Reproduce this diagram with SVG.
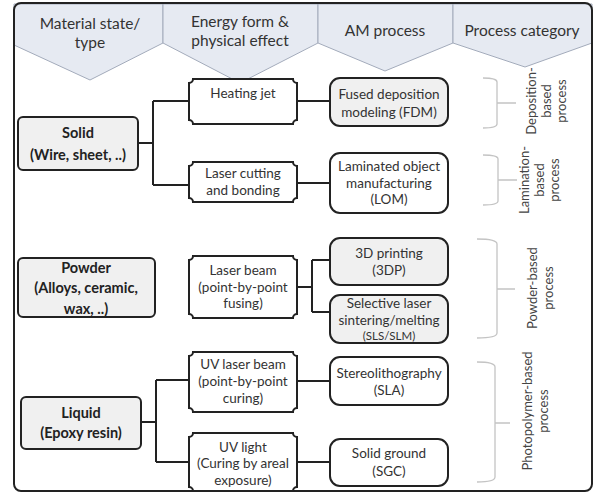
<svg xmlns="http://www.w3.org/2000/svg" width="595" height="493" viewBox="0 0 595 493">
<style>
text{font-family:Lato,"Open Sans","Liberation Sans",sans-serif;fill:#333;text-anchor:middle}
.h{font-size:15.5px}
.b{font-size:14.5px;font-weight:bold;fill:#222}
.t{font-size:13.5px}
.s{font-size:11.5px}
.r{font-size:13px;fill:#444}
.hd{fill:#e6eaf2;stroke:#a3abbb;stroke-width:1}
.mat{fill:#f0f0f0;stroke:#222;stroke-width:2}
.en{fill:#fff;stroke:#222;stroke-width:2}
.pg{fill:#f0f0f0;stroke:#222;stroke-width:2}
.pw{fill:#fff;stroke:#222;stroke-width:2}
.c{fill:none;stroke:#222;stroke-width:2}
.br{fill:none;stroke:#c4c4c4;stroke-width:1.3}
</style>
<rect x="14" y="3" width="578" height="488" rx="7" fill="#fff"/>
<g id="headers">
<polygon class="hd" points="14,4 163,4 163,43 90,80 14,45"/>
<polygon class="hd" points="163,4 318,4 318,43 240,83 163,43"/>
<polygon class="hd" points="318,4 453,4 453,43 385,71 318,43"/>
<polygon class="hd" points="453,4 592,4 592,43 525,67 453,43"/>
<text class="h" x="90" y="29">Material state/</text>
<text class="h" x="90" y="48">type</text>
<text class="h" x="240" y="27">Energy form &amp;</text>
<text class="h" x="240" y="46">physical effect</text>
<text class="h" x="385" y="36">AM process</text>
<text class="h" x="522" y="36">Process category</text>
</g>
<rect x="14" y="3" width="578" height="488" rx="7" fill="none" stroke="#222" stroke-width="2"/>
<g id="connectors">
<path class="c" d="M138,143 H153 M153,101 V185 M153,101 H190 M153,185 H190"/>
<path class="c" d="M297,101 H330"/>
<path class="c" d="M297,183 H330"/>
<path class="c" d="M297,287 H312 M312,260 V312 M312,260 H330 M312,312 H330"/>
<path class="c" d="M140,422 H156 M156,380 V462 M156,380 H190 M156,462 H190"/>
<path class="c" d="M297,381 H330"/>
<path class="c" d="M297,462 H330"/>
</g>
<g id="solid">
<rect class="mat" x="18" y="117" width="120" height="53" rx="5"/>
<text class="b" x="78" y="138">Solid</text>
<text class="b" x="78" y="160">(Wire, sheet, ..)</text>
</g>
<g id="powder">
<rect class="mat" x="18" y="258" width="137" height="59" rx="5"/>
<text class="b" x="86" y="273">Powder</text>
<text class="b" x="86" y="293">(Alloys, ceramic,</text>
<text class="b" x="86" y="314">wax, ..)</text>
</g>
<g id="liquid">
<rect class="mat" x="21" y="397" width="120" height="52" rx="5"/>
<text class="b" x="81" y="418">Liquid</text>
<text class="b" x="81" y="438">(Epoxy resin)</text>
</g>
<g id="heating-jet">
<path class="en" d="M193,79 H293 A4,4 0 0 0 297,83 V120 A4,4 0 0 0 293,124 H193 A4,4 0 0 0 189,120 V83 A4,4 0 0 0 193,79 Z"/>
<text class="t" x="243" y="98">Heating jet</text>
</g>
<g id="laser-cutting">
<path class="en" d="M193,162 H293 A4,4 0 0 0 297,166 V198 A4,4 0 0 0 293,202 H193 A4,4 0 0 0 189,198 V166 A4,4 0 0 0 193,162 Z"/>
<text class="t" x="243" y="178">Laser cutting</text>
<text class="t" x="243" y="195">and bonding</text>
</g>
<g id="laser-beam">
<path class="en" d="M193,256 H293 A4,4 0 0 0 297,260 V314 A4,4 0 0 0 293,318 H193 A4,4 0 0 0 189,314 V260 A4,4 0 0 0 193,256 Z"/>
<text class="t" x="243" y="275">Laser beam</text>
<text class="t" x="243" y="292">(point-by-point</text>
<text class="t" x="243" y="308">fusing)</text>
</g>
<g id="uv-laser-beam">
<path class="en" d="M193,352 H293 A4,4 0 0 0 297,356 V408 A4,4 0 0 0 293,412 H193 A4,4 0 0 0 189,408 V356 A4,4 0 0 0 193,352 Z"/>
<text class="t" x="243" y="369">UV laser beam</text>
<text class="t" x="243" y="386">(point-by-point</text>
<text class="t" x="243" y="403">curing)</text>
</g>
<g id="uv-light">
<path class="en" d="M193,433 H293 A4,4 0 0 0 297,437 V487 A4,4 0 0 0 293,491 H193 A4,4 0 0 0 189,487 V437 A4,4 0 0 0 193,433 Z"/>
<text class="t" x="243" y="452">UV light</text>
<text class="t" x="243" y="468">(Curing by areal</text>
<text class="t" x="243" y="485">exposure)</text>
</g>
<g id="fdm">
<rect class="pg" x="330" y="78" width="118" height="48" rx="10"/>
<text class="t" x="389" y="99">Fused deposition</text>
<text class="t" x="389" y="117">modeling (FDM)</text>
</g>
<g id="lom">
<rect class="pw" x="330" y="153" width="118" height="60" rx="10"/>
<text class="t" x="389" y="171">Laminated object</text>
<text class="t" x="389" y="188">manufacturing</text>
<text class="t" x="389" y="204">(LOM)</text>
</g>
<g id="3dp">
<rect class="pg" x="330" y="238" width="118" height="47" rx="10"/>
<text class="t" x="389" y="258">3D printing</text>
<text class="t" x="389" y="275">(3DP)</text>
</g>
<g id="sls">
<rect class="pg" x="330" y="295" width="118" height="48" rx="10"/>
<text class="t" x="389" y="308">Selective laser</text>
<text class="t" x="389" y="325">sintering/melting</text>
<text class="s" x="389" y="340">(SLS/SLM)</text>
</g>
<g id="sla">
<rect class="pw" x="330" y="357" width="118" height="48" rx="10"/>
<text class="t" x="389" y="378">Stereolithography</text>
<text class="t" x="389" y="395">(SLA)</text>
</g>
<g id="sgc">
<rect class="pw" x="330" y="439" width="118" height="47" rx="10"/>
<text class="t" x="389" y="458">Solid ground</text>
<text class="t" x="389" y="476">(SGC)</text>
</g>
<g id="deposition-based">
<path class="br" d="M483,78 Q497,78 497,82 V124 Q497,128 483,128 M497,103 H516"/>
<text class="r" transform="translate(532,101) rotate(-90)" y="4">Deposition-</text>
<text class="r" transform="translate(547,101) rotate(-90)" y="4">based</text>
<text class="r" transform="translate(562,101) rotate(-90)" y="4">process</text>
</g>
<g id="lamination-based">
<path class="br" d="M483,155 Q498,155 498,159 V201 Q498,205 483,205 M498,180 H517"/>
<text class="r" transform="translate(525,180) rotate(-90)" y="4">Lamination-</text>
<text class="r" transform="translate(540,180) rotate(-90)" y="4">based</text>
<text class="r" transform="translate(555,180) rotate(-90)" y="4">process</text>
</g>
<g id="powder-based">
<path class="br" d="M477,239 Q497,239 497,244 V333 Q497,338 477,338 M497,289 H515"/>
<text class="r" transform="translate(533,288) rotate(-90)" y="4">Powder-based</text>
<text class="r" transform="translate(549,288) rotate(-90)" y="4">process</text>
</g>
<g id="photopolymer-based">
<path class="br" d="M477,362 Q495,362 495,367 V477 Q495,482 477,482 M495,423 H510"/>
<text class="r" transform="translate(528,411) rotate(-90)" y="4">Photopolymer-based</text>
<text class="r" transform="translate(544,411) rotate(-90)" y="4">process</text>
</g>
</svg>
